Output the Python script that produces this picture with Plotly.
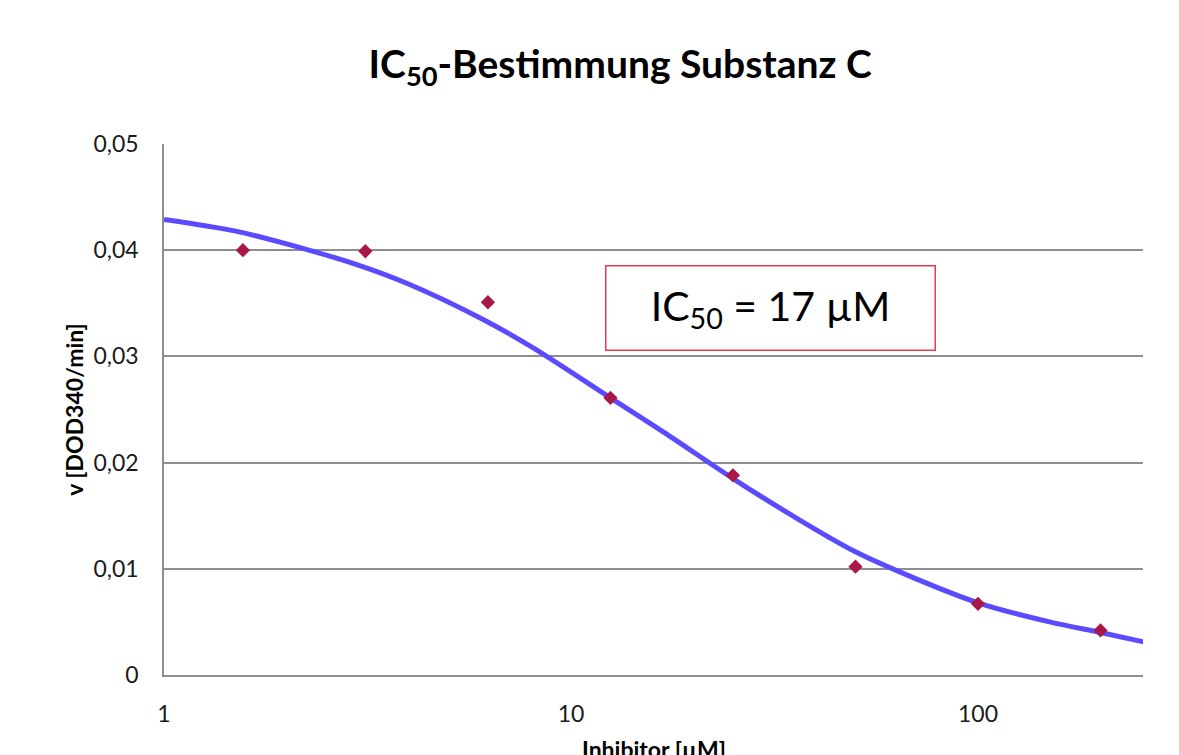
import plotly.graph_objects as go

# Measured data (inhibitor concentration in µM, rate v)
conc = [1.5625, 3.125, 6.25, 12.5, 25, 50, 100, 200]
rate = [0.0400, 0.0399, 0.0351, 0.0261, 0.0188, 0.0102, 0.0067, 0.0042]

# Fitted dose-response curve
fit_x = [1.0, 1.5, 2.0, 3.0, 4.0, 6.0, 8.0, 12.5, 17.0, 25.0, 35.0, 50.0, 70.0, 100.0, 150.0, 200.0, 257.0]
fit_y = [0.0429, 0.0418, 0.0406, 0.0386, 0.0368, 0.0336, 0.0309, 0.0261, 0.0228, 0.0185,
         0.0150, 0.0116, 0.0091, 0.0068, 0.0050, 0.0040, 0.0031]

y_ticks = [0, 0.01, 0.02, 0.03, 0.04, 0.05]
x_ticks = [1, 10, 100]
x_tick_labels = ["1", "10", "100"]

FONT = "Lato"
GRID = "#8E8E8E"

fig = go.Figure()
fig.add_trace(go.Scatter(
    x=fit_x, y=fit_y, mode="lines", line=dict(color="#5A4BFF", width=5, shape="spline", smoothing=0.9),
    hoverinfo="skip", showlegend=False))
fig.add_trace(go.Scatter(
    x=conc, y=rate, mode="markers",
    marker=dict(symbol="diamond", size=11, color="#A8194A", line=dict(width=0)),
    showlegend=False))

fig.update_layout(
    width=1179, height=755,
    margin=dict(l=164, r=36, t=144, b=80, autoexpand=False),
    paper_bgcolor="white", plot_bgcolor="white",
    separators=", ",
    font=dict(family=FONT, color="#1a1a1a"),
    title=dict(text="<b>IC<sub>50</sub>-Bestimmung Substanz C</b>",
               x=0.526, xanchor="center", y=0.915, yanchor="middle",
               font=dict(family=FONT, size=39, color="#000000")),
    xaxis=dict(type="log", range=[0, 2.4054], tickvals=x_ticks, ticktext=x_tick_labels,
               showgrid=False, zeroline=False, showline=True, linecolor=GRID, linewidth=1.5,
               ticks="", ticklabelstandoff=18, tickfont=dict(size=23, color="#1a1a1a"),
               automargin=False),
    yaxis=dict(range=[0, 0.05], tickvals=y_ticks, showgrid=True, gridcolor=GRID, gridwidth=1.5,
               zeroline=False, showline=True, linecolor=GRID, linewidth=1.5,
               ticks="", ticklabelstandoff=19, tickfont=dict(size=23, color="#1a1a1a"),
               automargin=False,
               title=dict(text="<b>v [DOD340/min]</b>", standoff=3,
                          font=dict(size=23, color="#000000"))),
    annotations=[
        dict(text="IC<sub>50</sub> = 17 µM", xref="paper", yref="paper",
             x=0.620, y=0.692, xanchor="center", yanchor="middle", showarrow=False,
             width=328, height=83, borderpad=0, bordercolor="#E8384F", borderwidth=1.5,
             bgcolor="white", font=dict(family=FONT, size=41, color="#000000")),
        dict(text="<b>Inhibitor [µM]</b>", xref="paper", yref="paper",
             x=0.5, y=-0.1092, xanchor="center", yanchor="top", showarrow=False,
             font=dict(family=FONT, size=23, color="#000000")),
    ],
)

fig.write_html("out.html")
